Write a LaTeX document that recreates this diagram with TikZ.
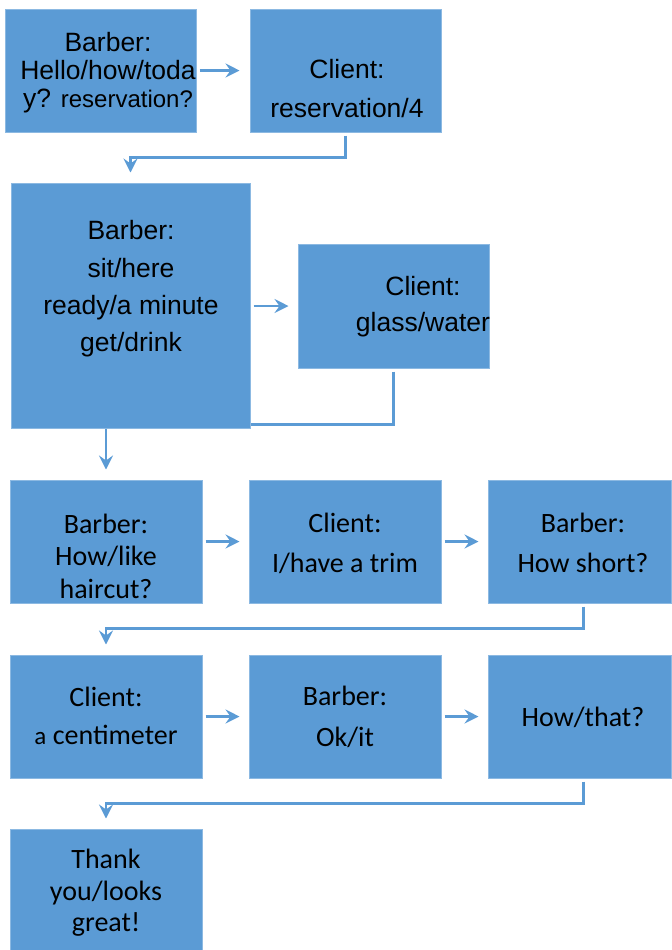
\documentclass[tikz,border=0pt]{standalone}
\usepackage{fontspec}
\setmainfont{Liberation Sans}
\newfontfamily\carlito{Carlito}
\usetikzlibrary{fit,arrows.meta}
\definecolor{boxblue}{RGB}{91,155,213}
\begin{document}
\begin{tikzpicture}[x=0.5pt,y=-0.5pt,
  blk/.style={fill=boxblue, draw=boxblue!70!white, line width=0.5pt, inner sep=0pt},
  atxt/.style={align=center, inner sep=0pt, font=\fontsize{13.25pt}{#1}\selectfont},
  atxt/.default=16pt,
  ctxt/.style={align=center, inner sep=0pt, font=\carlito\fontsize{14pt}{#1}\selectfont},
  ctxt/.default=16pt,
  link/.style={draw=boxblue, line width=1.2pt},
  arr/.style={link, -{Stealth[length=7pt,width=7pt,inset=2.5pt]}}
]
\useasboundingbox (0,0) rectangle (671,950);

% boxes
\node[blk, fit={(5,9) (196,132)}] (bA) {};
\node[blk, fit={(250,9) (441,132)}] (bB) {};
\node[blk, fit={(11,183) (250,428)}] (bC) {};
\node[blk, fit={(298,244) (489,368)}] (bD) {};
\node[blk, fit={(10,480) (202,603)}] (bE) {};
\node[blk, fit={(249,480) (441,603)}] (bF) {};
\node[blk, fit={(488,480) (671,603)}] (bG) {};
\node[blk, fit={(10,655) (202,778)}] (bH) {};
\node[blk, fit={(249,655) (441,778)}] (bI) {};
\node[blk, fit={(488,655) (671,778)}] (bJ) {};
\node[blk, fit={(10,829) (202,950)}] (bK) {};

% texts
\node[atxt=14pt] (tA) at (108,73) {Barber:\\Hello/how/toda\\y? {\fontsize{12pt}{14pt}\selectfont reservation?}};
\node[atxt=19.5pt] (tB) at (347,89) {Client:\\reservation/4};
\node[atxt=18.67pt] (tC) at (131,289) {Barber:\\sit/here\\ready/a minute\\get/drink};
\node[atxt=18pt] (tD) at (423,307) {Client:\\glass/water};
\node[ctxt=16.25pt] (tE) at (106,556) {Barber:\\How/like\\haircut?};
\node[ctxt=20pt] (tF) at (345,543) {Client:\\I/have a trim};
\node[ctxt=20pt] (tG) at (583,543) {Barber:\\How short?};
\node[ctxt=19pt] (tH) at (106,716) {Client:\\{\fontsize{12.5pt}{19pt}\selectfont a} centimeter};
\node[ctxt=20.5pt] (tI) at (345,717) {Barber:\\Ok/it};
\node[ctxt] (tJ) at (583,717) {How/that?};
\node[ctxt=15.75pt] (tK) at (106,893) {Thank\\you/looks\\great!};

% connectors
\draw[arr, shorten <=1.5pt, shorten >=5pt] (bA.east) -- (bB.west);
\draw[arr, shorten <=1.5pt, shorten >=5pt] (bB.south) -- ++(0,25) -| (bC.north);
\draw[arr, shorten <=1.5pt, shorten >=4.5pt] (bC.east |- bD.west) -- (bD.west);
\draw[link, shorten <=1.5pt] (bD.south) |- ([yshift=2pt]bC.south east);
\draw[arr, shorten >=5pt] (bC.south -| bE.north) -- (bE.north);

\draw[arr, shorten <=1.5pt, shorten >=4.5pt] (bE.east) -- (bF.west);
\draw[arr, shorten <=1.5pt, shorten >=4.5pt] (bF.east) -- (bG.west);
\draw[arr, shorten <=1.5pt, shorten >=5pt] ([xshift=2pt]bG.south) -- ++(0,25) -| (bH.north);

\draw[arr, shorten <=1.5pt, shorten >=4.5pt] (bH.east) -- (bI.west);
\draw[arr, shorten <=1.5pt, shorten >=4.5pt] (bI.east) -- (bJ.west);
\draw[arr, shorten <=1.5pt, shorten >=5pt] ([xshift=2pt]bJ.south) -- ++(0,25) -| (bK.north);
\end{tikzpicture}
\end{document}
